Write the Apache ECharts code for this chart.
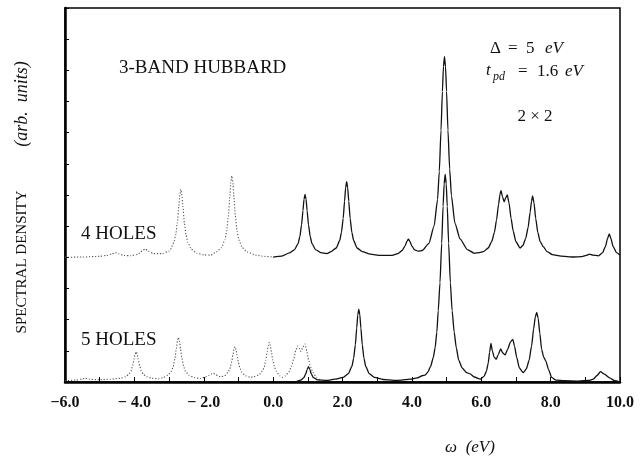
<!DOCTYPE html>
<html>
<head>
<meta charset="utf-8">
<title>3-band Hubbard spectral density</title>
<script src="https://cdn.jsdelivr.net/npm/echarts@6/dist/echarts.min.js"></script>
<style>
  html, body { margin: 0; padding: 0; background: #fff; }
  #chart { width: 642px; height: 457px; }
</style>
</head>
<body>
<div id="chart"></div>
<script>
// values: [omega (eV), spectral density (arb. units, offset)]
var holes4Dotted = [
  [-6.0,4.0],[-5.5,4.01],[-5.0,4.03],[-4.8,4.06],[-4.65,4.11],[-4.55,4.15],[-4.45,4.11],[-4.3,4.06],
  [-4.1,4.05],[-3.9,4.1],[-3.78,4.2],[-3.69,4.27],[-3.6,4.2],[-3.45,4.12],[-3.2,4.12],[-3.0,4.2],
  [-2.96,4.26],[-2.86,4.48],[-2.81,4.71],[-2.76,5.12],[-2.72,5.62],[-2.69,6.0],[-2.66,6.18],[-2.63,6.0],
  [-2.6,5.62],[-2.56,5.12],[-2.51,4.71],[-2.46,4.48],[-2.36,4.26],[-2.2,4.13],[-2.0,4.08],[-1.8,4.07],
  [-1.64,4.17],[-1.49,4.31],[-1.39,4.56],[-1.34,4.84],[-1.29,5.33],[-1.25,5.93],[-1.22,6.4],[-1.19,6.61],
  [-1.16,6.4],[-1.13,5.93],[-1.09,5.33],[-1.04,4.84],[-0.99,4.56],[-0.89,4.31],[-0.74,4.17],[-0.5,4.07],
  [-0.25,4.03],[0.0,4.01]
];
var holes4Solid = [
  [0.0,4.01],[0.25,4.04],[0.47,4.14],[0.62,4.25],[0.72,4.44],[0.77,4.66],[0.82,5.04],[0.86,5.5],
  [0.89,5.86],[0.92,6.02],[0.95,5.86],[0.98,5.5],[1.02,5.04],[1.07,4.66],[1.12,4.44],[1.22,4.25],
  [1.37,4.15],[1.55,4.12],[1.67,4.18],[1.82,4.3],[1.92,4.54],[1.97,4.8],[2.02,5.25],[2.06,5.8],
  [2.09,6.23],[2.12,6.43],[2.15,6.23],[2.18,5.8],[2.22,5.25],[2.27,4.8],[2.32,4.54],[2.42,4.3],
  [2.57,4.18],[2.8,4.1],[3.1,4.06],[3.4,4.06],[3.6,4.12],[3.72,4.22],[3.8,4.36],[3.86,4.52],[3.9,4.58],
  [3.94,4.52],[4.0,4.36],[4.08,4.24],[4.18,4.2],[4.3,4.22],[4.49,4.45],[4.64,5.0],[4.74,5.85],
  [4.79,6.75],[4.84,8.08],[4.88,9.32],[4.91,10.12],[4.94,10.44],[4.97,10.12],[5.0,9.32],[5.04,8.08],
  [5.09,6.83],[5.14,5.98],[5.24,5.1],[5.39,4.59],[5.6,4.25],[5.8,4.13],[5.95,4.15],[6.06,4.18],
  [6.2,4.3],[6.3,4.5],[6.38,4.8],[6.44,5.2],[6.5,5.7],[6.54,6.02],[6.57,6.14],[6.61,5.95],[6.66,5.78],
  [6.71,5.92],[6.75,6.0],[6.8,5.75],[6.86,5.25],[6.92,4.85],[7.0,4.5],[7.12,4.3],[7.2,4.38],[7.28,4.6],
  [7.35,4.95],[7.41,5.45],[7.45,5.8],[7.48,5.97],[7.52,5.75],[7.57,5.25],[7.63,4.8],[7.7,4.5],
  [7.79,4.34],[7.9,4.18],[8.05,4.09],[8.3,4.04],[8.65,4.01],[8.9,4.02],[9.05,4.07],[9.12,4.1],
  [9.22,4.07],[9.38,4.05],[9.5,4.15],[9.58,4.35],[9.64,4.6],[9.69,4.75],[9.74,4.6],[9.8,4.35],
  [9.9,4.15],[10.0,4.07]
];
var holes5Dotted = [
  [-6.0,0.04],[-5.7,0.06],[-5.5,0.1],[-5.42,0.12],[-5.3,0.09],[-5.0,0.07],[-4.7,0.09],[-4.4,0.12],
  [-4.25,0.17],[-4.15,0.26],[-4.1,0.35],[-4.05,0.53],[-4.01,0.73],[-3.98,0.9],[-3.95,0.97],[-3.92,0.9],
  [-3.89,0.73],[-3.85,0.53],[-3.8,0.35],[-3.75,0.26],[-3.65,0.17],[-3.5,0.12],[-3.3,0.1],[-3.18,0.14],
  [-3.03,0.22],[-2.93,0.35],[-2.88,0.5],[-2.83,0.76],[-2.79,1.07],[-2.76,1.32],[-2.73,1.43],[-2.7,1.32],
  [-2.67,1.07],[-2.63,0.76],[-2.58,0.5],[-2.53,0.35],[-2.43,0.22],[-2.28,0.14],[-2.1,0.11],[-1.95,0.16],
  [-1.85,0.21],[-1.77,0.26],[-1.72,0.28],[-1.66,0.24],[-1.56,0.18],[-1.5,0.17],[-1.4,0.2],[-1.3,0.31],
  [-1.25,0.42],[-1.2,0.62],[-1.16,0.86],[-1.13,1.04],[-1.1,1.13],[-1.07,1.04],[-1.04,0.86],[-1.0,0.62],
  [-0.95,0.42],[-0.9,0.31],[-0.8,0.2],[-0.66,0.15],[-0.56,0.17],[-0.41,0.23],[-0.31,0.35],[-0.26,0.47],
  [-0.21,0.7],[-0.17,0.97],[-0.14,1.17],[-0.11,1.27],[-0.08,1.17],[-0.05,0.97],[-0.01,0.7],[0.04,0.47],
  [0.09,0.35],[0.19,0.2],[0.27,0.15],[0.36,0.2],[0.45,0.32],[0.53,0.5],[0.6,0.76],[0.65,1.0],[0.7,1.15],
  [0.75,1.08],[0.8,0.98],[0.86,1.12],[0.92,1.22],[0.97,1.0],[1.02,0.72],[1.08,0.48],[1.15,0.3],
  [1.25,0.14],[1.35,0.06]
];
var holes5Solid = [
  [0.68,0.02],[0.8,0.06],[0.88,0.13],[0.94,0.26],[0.98,0.4],[1.02,0.49],[1.06,0.4],[1.1,0.26],
  [1.16,0.14],[1.28,0.07],[1.55,0.05],[1.77,0.09],[2.02,0.15],[2.17,0.27],[2.27,0.5],[2.32,0.75],
  [2.37,1.19],[2.41,1.73],[2.44,2.15],[2.47,2.34],[2.5,2.15],[2.53,1.73],[2.57,1.19],[2.62,0.75],
  [2.67,0.5],[2.77,0.27],[2.92,0.15],[3.17,0.08],[3.47,0.05],[3.7,0.06],[3.95,0.09],[4.15,0.13],
  [4.3,0.2],[4.38,0.22],[4.46,0.32],[4.54,0.5],[4.62,0.8],[4.67,1.1],[4.72,1.6],[4.76,2.29],[4.81,3.18],
  [4.86,4.45],[4.9,5.64],[4.93,6.36],[4.96,6.66],[4.99,6.36],[5.02,5.64],[5.06,4.45],[5.11,3.18],
  [5.16,2.29],[5.22,1.6],[5.28,1.1],[5.35,0.7],[5.45,0.45],[5.58,0.3],[5.68,0.26],[5.8,0.16],
  [5.97,0.09],[6.08,0.18],[6.15,0.35],[6.2,0.6],[6.24,0.95],[6.28,1.24],[6.32,1.0],[6.37,0.8],
  [6.43,0.73],[6.49,0.88],[6.56,1.06],[6.62,0.93],[6.69,0.87],[6.76,1.05],[6.84,1.28],[6.91,1.37],
  [6.96,1.15],[7.02,0.8],[7.1,0.45],[7.21,0.3],[7.3,0.42],[7.38,0.7],[7.45,1.15],[7.51,1.7],
  [7.56,2.1],[7.6,2.23],[7.64,2.05],[7.69,1.55],[7.74,1.05],[7.8,0.8],[7.86,0.68],[7.94,0.4],
  [8.03,0.15],[8.15,0.06],[8.4,0.04],[8.8,0.03],[9.1,0.05],[9.23,0.09],[9.33,0.2],[9.44,0.33],
  [9.55,0.25],[9.7,0.13],[9.85,0.04],[10.0,0.0]
];
var xTickValues = [-6, -4, -2, 0, 2, 4, 6, 8, 10];
var xTickLabels = ['\u22126.0', '\u2212 4.0', '\u2212 2.0', '0.0', '2.0', '4.0', '6.0', '8.0', '10.0'];

var serif = '"Liberation Serif", "DejaVu Serif", serif';
var chart = echarts.init(document.getElementById('chart'));

function txt(x, y, s, font, align) {
  return { type: 'text', x: x, y: y, style: { text: s, font: font, fill: '#111', align: align || 'left', verticalAlign: 'middle' } };
}
function vtxt(x, y, s, font) {
  return { type: 'text', x: x, y: y, rotation: Math.PI / 2, style: { text: s, font: font, fill: '#111', align: 'center', verticalAlign: 'middle' } };
}

var solidStyle = { color: '#111', width: 1.3 };
var dotStyle = { color: '#555', width: 1.1, type: [1.2, 1.8] };
function curve(data, style) {
  return { type: 'line', data: data, showSymbol: false, smooth: 0.2, smoothMonotone: 'x', lineStyle: style };
}

chart.setOption({
  animation: false,
  grid: { left: 65, right: 22, top: 8, bottom: 75, show: true, borderColor: '#000', borderWidth: 1.5 },
  xAxis: {
    type: 'value', min: -6, max: 10, interval: 1,
    axisLine: { onZero: false, lineStyle: { color: '#000', width: 2.5 } },
    axisTick: { inside: true, length: 5, lineStyle: { color: '#000', width: 1 } },
    splitLine: { show: false },
    axisLabel: {
      margin: 13, color: '#111', fontFamily: serif, fontWeight: 'bold', fontSize: 16,
      formatter: function (v) {
        var i = xTickValues.indexOf(Math.round(v));
        return i >= 0 ? xTickLabels[i] : '';
      }
    }
  },
  yAxis: {
    type: 'value', min: 0, max: 12, interval: 1,
    axisLine: { show: true, onZero: false, lineStyle: { color: '#000', width: 2.5 } },
    axisTick: { show: true, inside: true, length: 4, lineStyle: { color: '#000', width: 1 } },
    axisLabel: { show: false },
    splitLine: { show: false }
  },
  series: [
    curve(holes4Dotted, dotStyle),
    curve(holes4Solid, solidStyle),
    curve(holes5Dotted, dotStyle),
    curve(holes5Solid, solidStyle)
  ],
  graphic: [
    txt(119, 68, '3-BAND HUBBARD', '19px ' + serif),
    txt(81, 234, '4 HOLES', '19px ' + serif),
    txt(81, 340, '5 HOLES', '19px ' + serif),
    txt(490, 49, '\u0394', '17px ' + serif),
    txt(508, 49, '=', '17px ' + serif),
    txt(526, 49, '5', '17px ' + serif),
    txt(545, 49, 'eV', 'italic 17px ' + serif),
    txt(486, 71, 't', 'italic 17px ' + serif),
    txt(493, 77, 'pd', 'italic 12px ' + serif),
    txt(518, 72, '=', '17px ' + serif),
    txt(537, 72, '1.6', '17px ' + serif),
    txt(565, 72, 'eV', 'italic 17px ' + serif),
    txt(535, 117, '2 \u00d7 2', '17px ' + serif, 'center'),
    txt(470, 448, '\u03c9  (eV)', 'italic 17px ' + serif, 'center'),
    vtxt(22, 262, 'SPECTRAL DENSITY', '15px ' + serif),
    vtxt(22, 104, '(arb.  units)', 'italic 18px ' + serif)
  ]
});
</script>
</body>
</html>
